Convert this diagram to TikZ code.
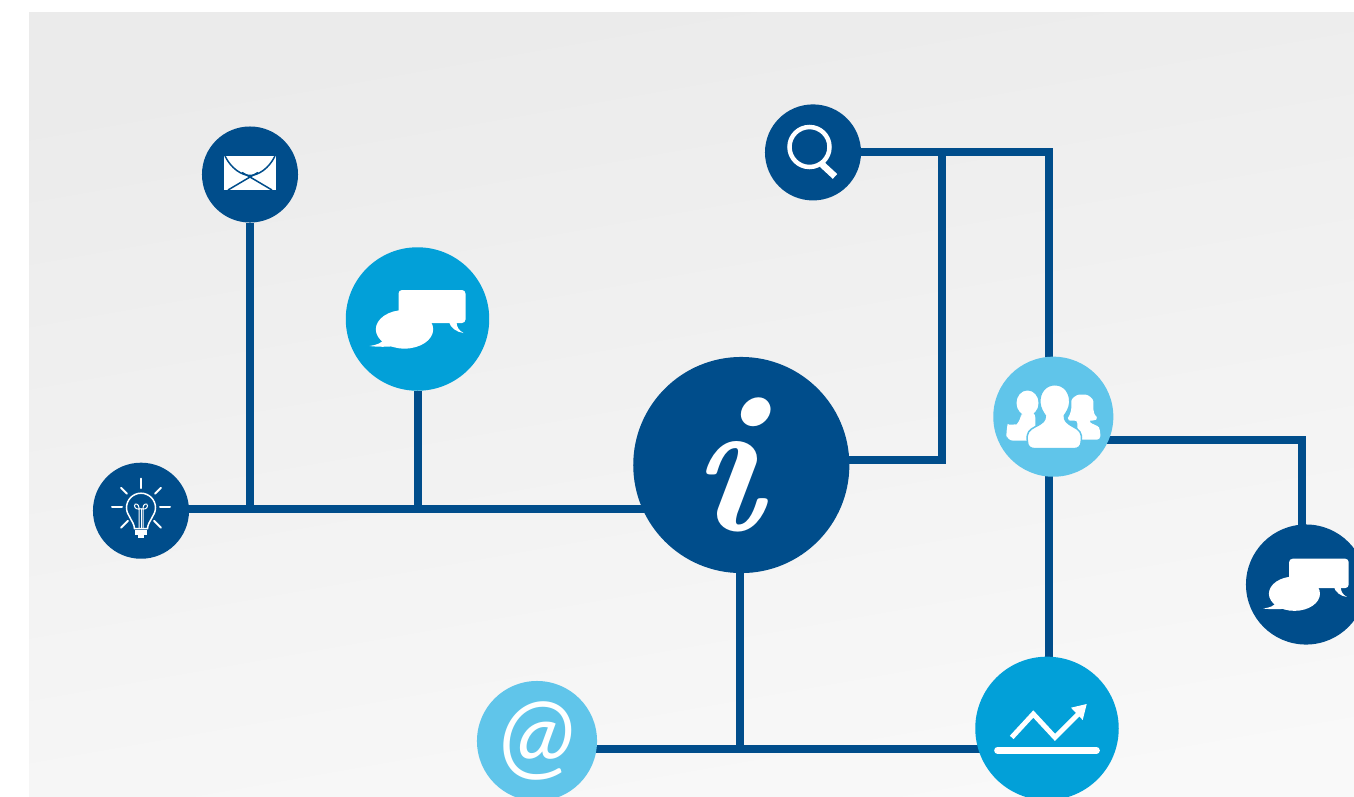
\documentclass[tikz,border=0pt]{standalone}
\usepackage{fontspec}
\newfontfamily\atfont{Lato}
\usepackage{tikz}
\usetikzlibrary{calc}
\definecolor{bdark}{HTML}{004D8B}
\definecolor{bmid}{HTML}{02A0D8}
\definecolor{blight}{HTML}{60C5EA}
\pgfdeclarelayer{wire}
\pgfsetlayers{wire,main}
\tikzset{chaticon/.pic={
    \fill[white, rounded corners=1] (-19,-29) rectangle (48,4);
    \fill[white] (31,2) .. controls (33,9) and (39,13) .. (46,14) .. controls (41,11) and (39,8) .. (39,2) -- cycle;
    \fill[white] (-13,10.3) ellipse [x radius=28.7, y radius=19.3];
    \fill[white] (-34,20) .. controls (-35,24) and (-41,26) .. (-48,27) .. controls (-40,28) and (-30,28) .. (-22,27) -- cycle;
}}

\begin{document}
\begin{tikzpicture}[x=0.01cm, y=-0.01cm]
      \tikzstyle{dnode} = [circle, fill=bdark, inner sep = 0pt, text=white]
      \tikzstyle{mnode} = [circle, fill=bmid, inner sep = 0pt, minimum size = 1.434cm]
      \tikzstyle{lnode} = [circle, fill=blight, inner sep = 0pt, minimum size = 1.2cm, text=white]
      \tikzstyle{link} = [draw=bdark, line width = 0.08cm]
      \tikzstyle{ray} = [white, line width = 0.02cm, line cap=round]

      \useasboundingbox (0,0) rectangle (1354,796);

      \begin{pgfonlayer}{wire}
        \shade[top color=black!8, bottom color=black!2.5, shading angle=10] (29,12) rectangle (1354,796);
      \end{pgfonlayer}

      \clip (0,0) rectangle (1354,796);

      \node[dnode, minimum size = 0.96cm] (mail) at (250,174.5) {};
      \node[mnode] (chat) at (417.5,319) {};
      \node[dnode, minimum size = 0.96cm] (bulb) at (141,510.7) {};
      \node[dnode, minimum size = 0.96cm] (search) at (813,152.4) {};
      \node[dnode, minimum size = 2.16cm, font=\normalfont\bfseries\itshape\fontsize{56pt}{56pt}\selectfont] (info) at (741.3,465) {i\kern0.3cm};
      \node[lnode] (group) at (1053.3,416.7) {};
      \node[dnode, minimum size = 1.2cm] (chatb) at (1306,584.5) {};
      \node[mnode] (chart) at (1047,728.4) {};
      \node[lnode, font=\atfont\itshape\fontsize{28pt}{28pt}\selectfont] (atn) at (537,741) {@};

      \coordinate (j1) at (942,460);
      \coordinate (j2) at (1302,440);
      \coordinate (j3) at (250,509);
      \coordinate (j4) at (1049,152);
      \coordinate (j5) at (739.7,749);

      \begin{pgfonlayer}{wire}
        \draw[link] (bulb |- j3) -- (info |- j3);
        \draw[link] (mail) -- (mail |- j3);
        \draw[link] (chat) -- (chat |- j3);
        \draw[link] (j5 |- info) -- (j5);
        \draw[link] (atn |- j5) -- (chart |- j5);
        \draw[link] (info |- j1) -- (j1) -- (j1 |- search);
        \draw[link] (search |- j4) -- (j4) -- (j4 |- chart);
        \draw[link] (group |- j2) -- (j2) -- (j2 |- chatb);
      \end{pgfonlayer}

      % envelope
      \begin{scope}[shift={(mail)}]
        \fill[white] (-25.7,-18.5) rectangle (25.7,15.5);
        \draw[bdark, line width = 0.015cm] (-25,-18.5) .. controls (-19,-6) and (-8,1) .. (0,1) .. controls (8,1) and (19,-6) .. (25,-18.5);
        \draw[bdark, line width = 0.015cm] (-22,15.5) -- (0,2.5) -- (22,15.5);
        \draw[bdark, line width = 0.015cm] (-8,-2) -- (0,2.5) -- (8,-2);
      \end{scope}

      % bulb
      \begin{scope}[shift={(bulb)}]
        \draw[ray] (0,-32) -- (0,-22.5);
        \draw[ray] (-20,-23) -- (-14,-17);
        \draw[ray] (20,-23) -- (14,-17);
        \draw[ray] (-29,-3.3) -- (-19,-3.3);
        \draw[ray] (29,-3.3) -- (19,-3.3);
        \draw[ray] (-20,17) -- (-13,10);
        \draw[ray] (20,17) -- (13,10);
        \draw[white, line width = 0.015cm] (-6.5,18) .. controls (-7,10) and (-14.5,5) .. (-14.5,-3) .. controls (-14.5,-11) and (-8,-17.5) .. (0,-17.5) .. controls (8,-17.5) and (14.5,-11) .. (14.5,-3) .. controls (14.5,5) and (7,10) .. (6.5,18) -- cycle;
        \draw[white, line width = 0.01cm] (-2,18) -- (-2,-3) .. controls (-2,-7) and (-6.5,-8) .. (-6.5,-5) .. controls (-6.5,-2) and (-3,-1) .. (0,-2) .. controls (3,-1) and (6.5,-2) .. (6.5,-5) .. controls (6.5,-8) and (2,-7) .. (2,-3) -- (2,18);
        \draw[white, line width = 0.01cm] (0,-2) -- (0,18);
        \fill[white] (-6,19) rectangle (6,24.5);
        \fill[white] (-3,24.5) rectangle (3,27);
      \end{scope}

      % magnifier
      \begin{scope}[shift={(search)}]
        \draw[white, line width = 0.045cm] (-3.5,-5.4) circle [radius=20];
        \draw[white, line width = 0.065cm] (9,12) -- (22,24);
      \end{scope}

      \pic at (chat) {chaticon};
      \pic[scale=.89] at (chatb) {chaticon};

      % people
      \begin{scope}[shift={(group)}]
        \fill[white] (-25.8,-13.7) ellipse [x radius=11, y radius=12.5];
        \fill[white, rounded corners=2] (-47,24) -- (-47,14) .. controls (-46,9) and (-36,7) .. (-32,3) -- (-32,-6) -- (-18,-6) -- (-18,24) -- cycle;
        \fill[white, rounded corners=1] (47,23) -- (47,14) .. controls (45,9) and (38,7) .. (35,3) .. controls (39,4) and (43,3) .. (45,0) .. controls (41,-2) and (40,-7) .. (40,-12) .. controls (40,-18) and (35,-22) .. (29,-22) .. controls (23,-22) and (18,-18) .. (18,-12) .. controls (18,-6) and (16,-1) .. (13,1) .. controls (16,4) and (20,4) .. (24,3) -- (24,23) -- cycle;
        \path[fill=white, draw=blight, line width = 0.015cm] (1.5,-32) .. controls (-8,-32) and (-14,-24) .. (-13.5,-14) .. controls (-13,-8) and (-10,-4) .. (-8,-1) .. controls (-8,4) and (-10,6) .. (-18,10) .. controls (-24,13) and (-27,16) .. (-26,24) .. controls (-26,30) and (-23,32) .. (-18,32) -- (20,32) .. controls (25,32) and (28,30) .. (28,24) .. controls (29,16) and (26,13) .. (20,10) .. controls (13,6) and (11,4) .. (11,-1) .. controls (13,-4) and (16,-8) .. (16.5,-14) .. controls (17,-24) and (11,-32) .. (1.5,-32) -- cycle;
      \end{scope}

      % graph line
      \begin{scope}[shift={(chart)}]
        \draw[white, line width = 0.067cm, line cap=round] (-49.5,21.9) -- (49.5,21.9);
        \draw[white, line width = 0.05cm] (-35.3,9) -- (-13.7,-14.4) -- (8,9) -- (31,-14);
        \fill[white] (39.7,-24.4) -- (24,-20.7) -- (35.7,-8.4) -- cycle;
      \end{scope}
\end{tikzpicture}
\end{document}
